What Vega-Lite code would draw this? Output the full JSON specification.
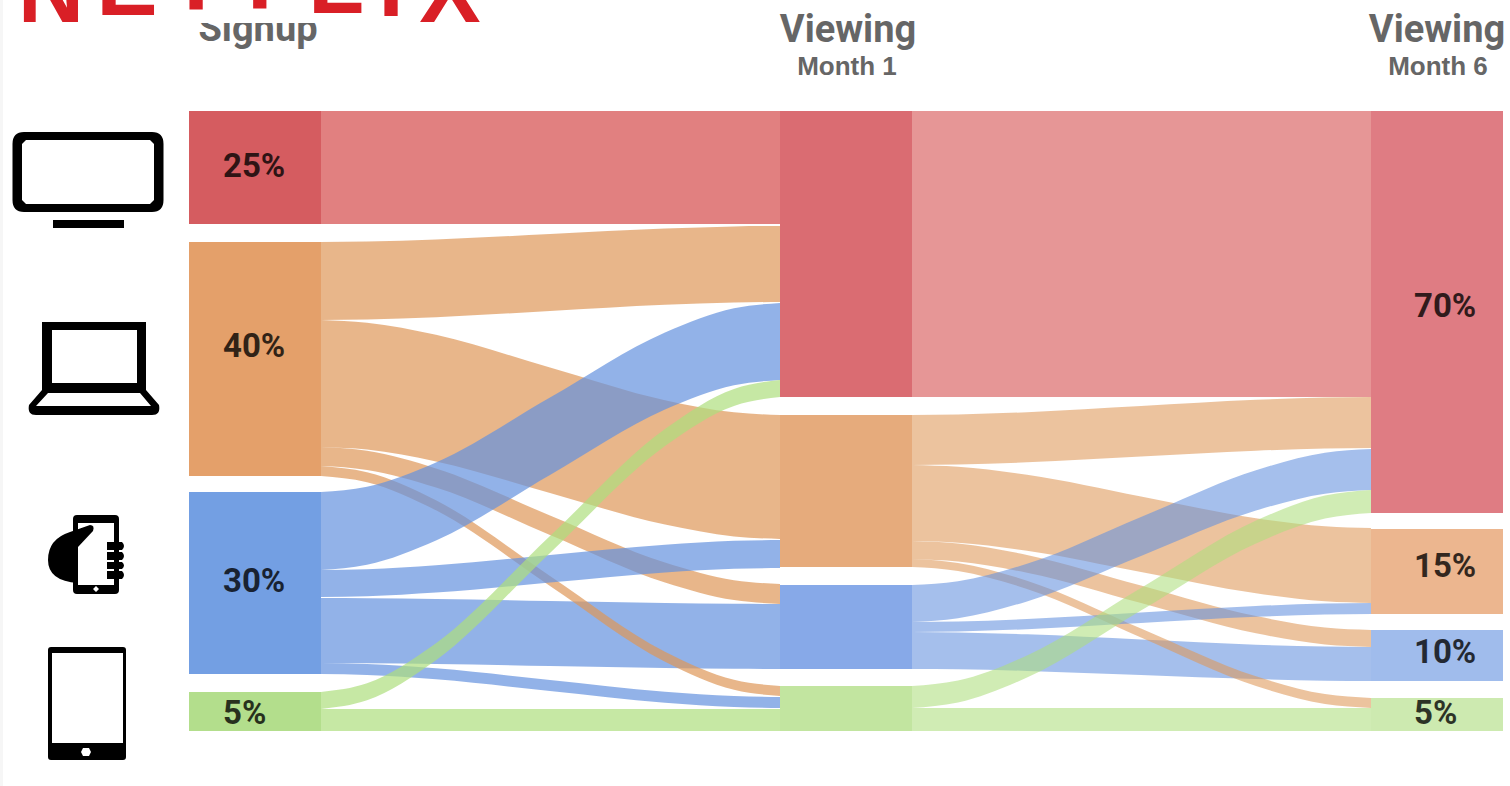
{"$schema":"https://vega.github.io/schema/vega-lite/v6.json","width":1510,"height":786,"padding":0,"autosize":"none","background":"white","config":{"view":{"stroke":null}},
"datasets":{
"flows":[
{"flow":"s1-red","stage":"s1","device":"TV","x":321,"top":111,"bottom":224},{"flow":"s1-red","stage":"s1","device":"TV","x":780,"top":111,"bottom":224},
{"flow":"s2-red","stage":"s2","device":"TV","x":912,"top":111,"bottom":397},{"flow":"s2-red","stage":"s2","device":"TV","x":1371,"top":111,"bottom":397},
{"flow":"s1-bc","stage":"s1","device":"Phone","x":321,"top":598,"bottom":663},{"flow":"s1-bc","stage":"s1","device":"Phone","x":367,"top":598.2,"bottom":663.2},{"flow":"s1-bc","stage":"s1","device":"Phone","x":436,"top":598.9,"bottom":663.9},{"flow":"s1-bc","stage":"s1","device":"Phone","x":550,"top":601,"bottom":666},{"flow":"s1-bc","stage":"s1","device":"Phone","x":665,"top":603.1,"bottom":668.1},{"flow":"s1-bc","stage":"s1","device":"Phone","x":734,"top":603.8,"bottom":668.8},{"flow":"s1-bc","stage":"s1","device":"Phone","x":780,"top":604,"bottom":669},
{"flow":"s2-bc","stage":"s2","device":"Phone","x":912,"top":632,"bottom":669},{"flow":"s2-bc","stage":"s2","device":"Phone","x":958,"top":632.4,"bottom":669.3},{"flow":"s2-bc","stage":"s2","device":"Phone","x":1027,"top":634.3,"bottom":670.9},{"flow":"s2-bc","stage":"s2","device":"Phone","x":1141,"top":639.5,"bottom":675},{"flow":"s2-bc","stage":"s2","device":"Phone","x":1256,"top":644.7,"bottom":679.1},{"flow":"s2-bc","stage":"s2","device":"Phone","x":1325,"top":646.6,"bottom":680.7},{"flow":"s2-bc","stage":"s2","device":"Phone","x":1371,"top":647,"bottom":681},
{"flow":"s1-od","stage":"s1","device":"Laptop","x":321,"top":466,"bottom":476},{"flow":"s1-od","stage":"s1","device":"Laptop","x":367,"top":472.2,"bottom":482.2},{"flow":"s1-od","stage":"s1","device":"Laptop","x":436,"top":500.3,"bottom":510.3},{"flow":"s1-od","stage":"s1","device":"Laptop","x":550,"top":576,"bottom":586},{"flow":"s1-od","stage":"s1","device":"Laptop","x":665,"top":651.7,"bottom":661.7},{"flow":"s1-od","stage":"s1","device":"Laptop","x":734,"top":679.8,"bottom":689.8},{"flow":"s1-od","stage":"s1","device":"Laptop","x":780,"top":686,"bottom":696},
{"flow":"s2-od","stage":"s2","device":"Laptop","x":912,"top":559,"bottom":567},{"flow":"s2-od","stage":"s2","device":"Laptop","x":958,"top":562.9,"bottom":570.9},{"flow":"s2-od","stage":"s2","device":"Laptop","x":1027,"top":580.7,"bottom":589},{"flow":"s2-od","stage":"s2","device":"Laptop","x":1141,"top":628.5,"bottom":637.5},{"flow":"s2-od","stage":"s2","device":"Laptop","x":1256,"top":676.3,"bottom":686},{"flow":"s2-od","stage":"s2","device":"Laptop","x":1325,"top":694.1,"bottom":704},{"flow":"s2-od","stage":"s2","device":"Laptop","x":1371,"top":698,"bottom":708},
{"flow":"s1-oa","stage":"s1","device":"Laptop","x":321,"top":242,"bottom":320},{"flow":"s1-oa","stage":"s1","device":"Laptop","x":367,"top":241.6,"bottom":319.5},{"flow":"s1-oa","stage":"s1","device":"Laptop","x":436,"top":239.5,"bottom":317.2},{"flow":"s1-oa","stage":"s1","device":"Laptop","x":550,"top":234,"bottom":311},{"flow":"s1-oa","stage":"s1","device":"Laptop","x":665,"top":228.5,"bottom":304.8},{"flow":"s1-oa","stage":"s1","device":"Laptop","x":734,"top":226.4,"bottom":302.5},{"flow":"s1-oa","stage":"s1","device":"Laptop","x":780,"top":226,"bottom":302},
{"flow":"s1-ob","stage":"s1","device":"Laptop","x":321,"top":320,"bottom":447},{"flow":"s1-ob","stage":"s1","device":"Laptop","x":367,"top":322.7,"bottom":449.6},{"flow":"s1-ob","stage":"s1","device":"Laptop","x":436,"top":334.8,"bottom":461.4},{"flow":"s1-ob","stage":"s1","device":"Laptop","x":550,"top":367.5,"bottom":493},{"flow":"s1-ob","stage":"s1","device":"Laptop","x":665,"top":400.2,"bottom":524.6},{"flow":"s1-ob","stage":"s1","device":"Laptop","x":734,"top":412.3,"bottom":536.4},{"flow":"s1-ob","stage":"s1","device":"Laptop","x":780,"top":415,"bottom":539},
{"flow":"s1-oc","stage":"s1","device":"Laptop","x":321,"top":447,"bottom":466},{"flow":"s1-oc","stage":"s1","device":"Laptop","x":367,"top":450.8,"bottom":469.9},{"flow":"s1-oc","stage":"s1","device":"Laptop","x":436,"top":468.4,"bottom":487.5},{"flow":"s1-oc","stage":"s1","device":"Laptop","x":550,"top":515.5,"bottom":535},{"flow":"s1-oc","stage":"s1","device":"Laptop","x":665,"top":562.6,"bottom":582.5},{"flow":"s1-oc","stage":"s1","device":"Laptop","x":734,"top":580.2,"bottom":600.1},{"flow":"s1-oc","stage":"s1","device":"Laptop","x":780,"top":584,"bottom":604},
{"flow":"s2-oa","stage":"s2","device":"Laptop","x":912,"top":415,"bottom":465},{"flow":"s2-oa","stage":"s2","device":"Laptop","x":958,"top":414.5,"bottom":464.5},{"flow":"s2-oa","stage":"s2","device":"Laptop","x":1027,"top":412.2,"bottom":462.3},{"flow":"s2-oa","stage":"s2","device":"Laptop","x":1141,"top":406,"bottom":456.5},{"flow":"s2-oa","stage":"s2","device":"Laptop","x":1256,"top":399.8,"bottom":450.7},{"flow":"s2-oa","stage":"s2","device":"Laptop","x":1325,"top":397.5,"bottom":448.5},{"flow":"s2-oa","stage":"s2","device":"Laptop","x":1371,"top":397,"bottom":448},
{"flow":"s2-ob","stage":"s2","device":"Laptop","x":912,"top":465,"bottom":541},{"flow":"s2-ob","stage":"s2","device":"Laptop","x":958,"top":466.8,"bottom":542.7},{"flow":"s2-ob","stage":"s2","device":"Laptop","x":1027,"top":474.8,"bottom":550.7},{"flow":"s2-ob","stage":"s2","device":"Laptop","x":1141,"top":496.5,"bottom":572},{"flow":"s2-ob","stage":"s2","device":"Laptop","x":1256,"top":518.2,"bottom":593.3},{"flow":"s2-ob","stage":"s2","device":"Laptop","x":1325,"top":526.2,"bottom":601.3},{"flow":"s2-ob","stage":"s2","device":"Laptop","x":1371,"top":528,"bottom":603},
{"flow":"s2-oc","stage":"s2","device":"Laptop","x":912,"top":541,"bottom":559},{"flow":"s2-oc","stage":"s2","device":"Laptop","x":958,"top":543.5,"bottom":561.5},{"flow":"s2-oc","stage":"s2","device":"Laptop","x":1027,"top":554.9,"bottom":572.7},{"flow":"s2-oc","stage":"s2","device":"Laptop","x":1141,"top":585.5,"bottom":603},{"flow":"s2-oc","stage":"s2","device":"Laptop","x":1256,"top":616.1,"bottom":633.3},{"flow":"s2-oc","stage":"s2","device":"Laptop","x":1325,"top":627.5,"bottom":644.5},{"flow":"s2-oc","stage":"s2","device":"Laptop","x":1371,"top":630,"bottom":647},
{"flow":"s1-ba","stage":"s1","device":"Phone","x":321,"top":492,"bottom":570},{"flow":"s1-ba","stage":"s1","device":"Phone","x":367,"top":486.7,"bottom":564.7},{"flow":"s1-ba","stage":"s1","device":"Phone","x":436,"top":462.5,"bottom":540.4},{"flow":"s1-ba","stage":"s1","device":"Phone","x":550,"top":397.5,"bottom":475},{"flow":"s1-ba","stage":"s1","device":"Phone","x":665,"top":332.5,"bottom":409.6},{"flow":"s1-ba","stage":"s1","device":"Phone","x":734,"top":308.3,"bottom":385.3},{"flow":"s1-ba","stage":"s1","device":"Phone","x":780,"top":303,"bottom":380},
{"flow":"s1-bb","stage":"s1","device":"Phone","x":321,"top":570,"bottom":597},{"flow":"s1-bb","stage":"s1","device":"Phone","x":367,"top":569.2,"bottom":596.2},{"flow":"s1-bb","stage":"s1","device":"Phone","x":436,"top":565.3,"bottom":592.5},{"flow":"s1-bb","stage":"s1","device":"Phone","x":550,"top":555,"bottom":582.5},{"flow":"s1-bb","stage":"s1","device":"Phone","x":665,"top":544.7,"bottom":572.5},{"flow":"s1-bb","stage":"s1","device":"Phone","x":734,"top":540.8,"bottom":568.8},{"flow":"s1-bb","stage":"s1","device":"Phone","x":780,"top":540,"bottom":568},
{"flow":"s1-bd","stage":"s1","device":"Phone","x":321,"top":663,"bottom":674},{"flow":"s1-bd","stage":"s1","device":"Phone","x":367,"top":664,"bottom":675},{"flow":"s1-bd","stage":"s1","device":"Phone","x":436,"top":668.3,"bottom":679.3},{"flow":"s1-bd","stage":"s1","device":"Phone","x":550,"top":680,"bottom":691},{"flow":"s1-bd","stage":"s1","device":"Phone","x":665,"top":691.7,"bottom":702.7},{"flow":"s1-bd","stage":"s1","device":"Phone","x":734,"top":696,"bottom":707},{"flow":"s1-bd","stage":"s1","device":"Phone","x":780,"top":697,"bottom":708},
{"flow":"s2-ba","stage":"s2","device":"Phone","x":912,"top":585,"bottom":622},{"flow":"s2-ba","stage":"s2","device":"Phone","x":958,"top":581.2,"bottom":618.3},{"flow":"s2-ba","stage":"s2","device":"Phone","x":1027,"top":563.8,"bottom":601.4},{"flow":"s2-ba","stage":"s2","device":"Phone","x":1141,"top":517,"bottom":556},{"flow":"s2-ba","stage":"s2","device":"Phone","x":1256,"top":470.2,"bottom":510.6},{"flow":"s2-ba","stage":"s2","device":"Phone","x":1325,"top":452.8,"bottom":493.7},{"flow":"s2-ba","stage":"s2","device":"Phone","x":1371,"top":449,"bottom":490},
{"flow":"s2-bb","stage":"s2","device":"Phone","x":912,"top":622,"bottom":632},{"flow":"s2-bb","stage":"s2","device":"Phone","x":958,"top":621.5,"bottom":631.5},{"flow":"s2-bb","stage":"s2","device":"Phone","x":1027,"top":619,"bottom":629.2},{"flow":"s2-bb","stage":"s2","device":"Phone","x":1141,"top":612.5,"bottom":623},{"flow":"s2-bb","stage":"s2","device":"Phone","x":1256,"top":606,"bottom":616.8},{"flow":"s2-bb","stage":"s2","device":"Phone","x":1325,"top":603.5,"bottom":614.5},{"flow":"s2-bb","stage":"s2","device":"Phone","x":1371,"top":603,"bottom":614},
{"flow":"s1-ga","stage":"s1","device":"Tablet","x":321,"top":692,"bottom":709},{"flow":"s1-ga","stage":"s1","device":"Tablet","x":367,"top":683.3,"bottom":700.3},{"flow":"s1-ga","stage":"s1","device":"Tablet","x":436,"top":643.3,"bottom":660.3},{"flow":"s1-ga","stage":"s1","device":"Tablet","x":550,"top":536,"bottom":553},{"flow":"s1-ga","stage":"s1","device":"Tablet","x":665,"top":429,"bottom":446},{"flow":"s1-ga","stage":"s1","device":"Tablet","x":734,"top":389,"bottom":406},{"flow":"s1-ga","stage":"s1","device":"Tablet","x":780,"top":380,"bottom":397},
{"flow":"s1-gb","stage":"s1","device":"Tablet","x":321,"top":709,"bottom":731},{"flow":"s1-gb","stage":"s1","device":"Tablet","x":780,"top":709,"bottom":731},
{"flow":"s2-ga","stage":"s2","device":"Tablet","x":912,"top":686,"bottom":708},{"flow":"s2-ga","stage":"s2","device":"Tablet","x":958,"top":680.5,"bottom":702.5},{"flow":"s2-ga","stage":"s2","device":"Tablet","x":1027,"top":655.4,"bottom":677.6},{"flow":"s2-ga","stage":"s2","device":"Tablet","x":1141,"top":588,"bottom":610.5},{"flow":"s2-ga","stage":"s2","device":"Tablet","x":1256,"top":520.6,"bottom":543.4},{"flow":"s2-ga","stage":"s2","device":"Tablet","x":1325,"top":495.5,"bottom":518.5},{"flow":"s2-ga","stage":"s2","device":"Tablet","x":1371,"top":490,"bottom":513},
{"flow":"s2-gb","stage":"s2","device":"Tablet","x":912,"top":708,"bottom":731},{"flow":"s2-gb","stage":"s2","device":"Tablet","x":1371,"top":708,"bottom":731}
],
"bars":[
{"key":"Signup TV","x0":189,"x1":321,"y0":111,"y1":224},{"key":"Signup Laptop","x0":189,"x1":321,"y0":242,"y1":476},{"key":"Signup Phone","x0":189,"x1":321,"y0":492,"y1":674},{"key":"Signup Tablet","x0":189,"x1":321,"y0":692,"y1":731},
{"key":"M1 TV","x0":780,"x1":912,"y0":111,"y1":397},{"key":"M1 Laptop","x0":780,"x1":912,"y0":415,"y1":567},{"key":"M1 Phone","x0":780,"x1":912,"y0":585,"y1":669},{"key":"M1 Tablet","x0":780,"x1":912,"y0":686,"y1":731},
{"key":"M6 TV","x0":1371,"x1":1503,"y0":111,"y1":513},{"key":"M6 Laptop","x0":1371,"x1":1503,"y0":529,"y1":614},{"key":"M6 Phone","x0":1371,"x1":1503,"y0":630,"y1":681},{"key":"M6 Tablet","x0":1371,"x1":1503,"y0":698,"y1":731}
],
"percents":[{"label":"25%","x":223,"y":177},{"label":"40%","x":223,"y":357},{"label":"30%","x":223,"y":592},{"label":"5%","x":223,"y":724},{"label":"70%","x":1414,"y":317},{"label":"15%","x":1414,"y":577},{"label":"10%","x":1414,"y":663},{"label":"5%","x":1414,"y":724}],
"heads":[{"label":"Signup","x":258,"y":41},{"label":"Viewing","x":848,"y":42},{"label":"Viewing","x":1437,"y":42}],
"subs":[{"label":"Month 1","x":847,"y":75},{"label":"Month 6","x":1438,"y":75}],
"logo":[{"label":"N","x":51,"y":22},{"label":"E","x":127,"y":15},{"label":"T","x":196,"y":10},{"label":"F","x":275,"y":8},{"label":"L","x":336,"y":13},{"label":"I","x":391,"y":16},{"label":"X","x":450,"y":22}]
},
"layer":[
{"data":{"values":[{"x0":0,"x1":3,"y0":0,"y1":786}]},"mark":{"type":"rect","color":"#f6f6f6"},"encoding":{"x":{"field":"x0","type":"quantitative","scale":{"domain":[0,1510]},"axis":null},"x2":{"field":"x1"},"y":{"field":"y0","type":"quantitative","scale":{"domain":[0,786],"reverse":true},"axis":null},"y2":{"field":"y1"}}},
{"data":{"name":"flows"},"mark":{"type":"area","interpolate":"monotone"},"encoding":{"x":{"field":"x","type":"quantitative","scale":{"domain":[0,1510]},"axis":null},"y":{"field":"top","type":"quantitative","scale":{"domain":[0,786],"reverse":true},"axis":null},"y2":{"field":"bottom"},"detail":{"field":"flow"},"color":{"field":"device","type":"nominal","scale":{"domain":["TV","Laptop","Phone","Tablet"],"range":["#d44a4a","#de9758","#6491de","#aede7d"]},"legend":null},"opacity":{"field":"stage","type":"nominal","scale":{"domain":["s1","s2"],"range":[0.7,0.58]},"legend":null}}},
{"data":{"name":"bars"},"mark":{"type":"rect"},"encoding":{"x":{"field":"x0","type":"quantitative","scale":{"domain":[0,1510]},"axis":null},"x2":{"field":"x1"},"y":{"field":"y0","type":"quantitative","scale":{"domain":[0,786],"reverse":true},"axis":null},"y2":{"field":"y1"},"color":{"field":"key","type":"nominal","scale":{"domain":["Signup TV","Signup Laptop","Signup Phone","Signup Tablet","M1 TV","M1 Laptop","M1 Phone","M1 Tablet","M6 TV","M6 Laptop","M6 Phone","M6 Tablet"],"range":["#d55c60","#e4a06a","#739fe3","#b3de8c","#da6c72","#e6ab7c","#87a9e8","#c2e5a0","#df7c83","#ecb68f","#a0bcec","#cdeab0"]},"legend":null}}},
{"data":{"name":"percents"},"mark":{"type":"text","align":"left","baseline":"alphabetic","font":"Roboto","fontWeight":"bold","fontSize":33,"color":"#000000","opacity":0.78},"encoding":{"x":{"field":"x","type":"quantitative","scale":{"domain":[0,1510]},"axis":null},"y":{"field":"y","type":"quantitative","scale":{"domain":[0,786],"reverse":true},"axis":null},"text":{"field":"label"}}},
{"data":{"name":"heads"},"mark":{"type":"text","align":"center","baseline":"alphabetic","font":"Roboto","fontWeight":"bold","fontSize":38,"color":"#666666"},"encoding":{"x":{"field":"x","type":"quantitative","scale":{"domain":[0,1510]},"axis":null},"y":{"field":"y","type":"quantitative","scale":{"domain":[0,786],"reverse":true},"axis":null},"text":{"field":"label"}}},
{"data":{"name":"subs"},"mark":{"type":"text","align":"center","baseline":"alphabetic","font":"Liberation Sans","fontWeight":"bold","fontSize":26,"color":"#666666"},"encoding":{"x":{"field":"x","type":"quantitative","scale":{"domain":[0,1510]},"axis":null},"y":{"field":"y","type":"quantitative","scale":{"domain":[0,786],"reverse":true},"axis":null},"text":{"field":"label"}}},
{"data":{"values":[{"x0":190,"x1":330,"y0":0,"y1":23}]},"mark":{"type":"rect","color":"#ffffff"},"encoding":{"x":{"field":"x0","type":"quantitative","scale":{"domain":[0,1510]},"axis":null},"x2":{"field":"x1"},"y":{"field":"y0","type":"quantitative","scale":{"domain":[0,786],"reverse":true},"axis":null},"y2":{"field":"y1"}}},
{"data":{"name":"logo"},"mark":{"type":"text","align":"center","baseline":"alphabetic","font":"Liberation Sans","fontWeight":"bold","fontSize":92,"color":"#d91f26"},"encoding":{"x":{"field":"x","type":"quantitative","scale":{"domain":[0,1510]},"axis":null},"y":{"field":"y","type":"quantitative","scale":{"domain":[0,786],"reverse":true},"axis":null},"text":{"field":"label"}}},
{"data":{"values":[{"icon":"TV","x":88,"y":180}]},
"mark":{"type":"point","filled":true,"color":"#000000","opacity":1,"size":40000,"shape":"M-0.64 -0.48 L0.64 -0.48 Q0.755 -0.48 0.755 -0.36 L0.755 0.2 Q0.755 0.32 0.64 0.32 L-0.64 0.32 Q-0.755 0.32 -0.755 0.2 L-0.755 -0.36 Q-0.755 -0.48 -0.64 -0.48 Z M-0.62 -0.4 L-0.66 -0.36 L-0.66 0.2 L-0.62 0.24 L0.62 0.24 L0.66 0.2 L0.66 -0.36 L0.62 -0.4 Z M-0.35 0.4 L0.36 0.4 L0.36 0.48 L-0.35 0.48 Z"},
"encoding":{"x":{"field":"x","type":"quantitative","scale":{"domain":[0,1510]},"axis":null},"y":{"field":"y","type":"quantitative","scale":{"domain":[0,786],"reverse":true},"axis":null}}},
{"data":{"values":[{"icon":"Laptop","x":94,"y":368}]},
"mark":{"type":"point","filled":true,"color":"#000000","opacity":1,"size":40000,"shape":"M-0.52 -0.46 L0.52 -0.46 L0.52 0.22 L0.65 0.37 Q0.67 0.47 0.58 0.47 L-0.58 0.47 Q-0.67 0.47 -0.65 0.37 L-0.52 0.22 Z M-0.42 -0.38 L-0.42 0.15 L0.43 0.15 L0.43 -0.38 Z M-0.46 0.25 L-0.58 0.38 L0.57 0.38 L0.46 0.25 Z"},
"encoding":{"x":{"field":"x","type":"quantitative","scale":{"domain":[0,1510]},"axis":null},"y":{"field":"y","type":"quantitative","scale":{"domain":[0,786],"reverse":true},"axis":null}}},
{"data":{"values":[{"icon":"Phone","x":87,"y":555}]},
"mark":{"type":"point","filled":true,"color":"#000000","opacity":1,"size":40000,"shape":"M-0.1 -0.4 L0.28 -0.4 Q0.32 -0.4 0.32 -0.36 L0.32 0.35 Q0.32 0.39 0.28 0.39 L-0.1 0.39 Q-0.14 0.39 -0.14 0.35 L-0.14 -0.36 Q-0.14 -0.4 -0.1 -0.4 Z M-0.09 -0.32 L-0.09 0.3 L0.27 0.3 L0.27 -0.32 Z M0.03 -0.3 Q0.08 -0.3 0.06 -0.24 L-0.09 -0.08 L-0.09 0.28 Q-0.39 0.26 -0.39 0.05 Q-0.39 -0.16 -0.17 -0.23 Z M0.2 -0.13 L0.35 -0.13 Q0.39 -0.09 0.35 -0.05 L0.2 -0.05 Z M0.2 -0.03 L0.35 -0.03 Q0.39 0.01 0.35 0.05 L0.2 0.05 Z M0.2 0.07 L0.35 0.07 Q0.39 0.105 0.35 0.14 L0.2 0.14 Z M0.2 0.16 L0.35 0.16 Q0.39 0.2 0.35 0.24 L0.2 0.24 Z M0.06 0.34 L0.09 0.37 L0.12 0.34 L0.09 0.31 Z"},
"encoding":{"x":{"field":"x","type":"quantitative","scale":{"domain":[0,1510]},"axis":null},"y":{"field":"y","type":"quantitative","scale":{"domain":[0,786],"reverse":true},"axis":null}}},
{"data":{"values":[{"icon":"Tablet","x":87,"y":703}]},
"mark":{"type":"point","filled":true,"color":"#000000","opacity":1,"size":40000,"shape":"M-0.36 -0.56 L0.36 -0.56 Q0.39 -0.56 0.39 -0.53 L0.39 0.54 Q0.39 0.57 0.36 0.57 L-0.36 0.57 Q-0.39 0.57 -0.39 0.54 L-0.39 -0.53 Q-0.39 -0.56 -0.36 -0.56 Z M-0.35 -0.5 L-0.35 0.4 L0.36 0.4 L0.36 -0.5 Z M-0.06 0.49 L-0.04 0.53 L0.02 0.53 L0.04 0.49 L0.02 0.45 L-0.04 0.45 Z"},
"encoding":{"x":{"field":"x","type":"quantitative","scale":{"domain":[0,1510]},"axis":null},"y":{"field":"y","type":"quantitative","scale":{"domain":[0,786],"reverse":true},"axis":null}}}
],
"resolve":{"scale":{"color":"independent"}}}
